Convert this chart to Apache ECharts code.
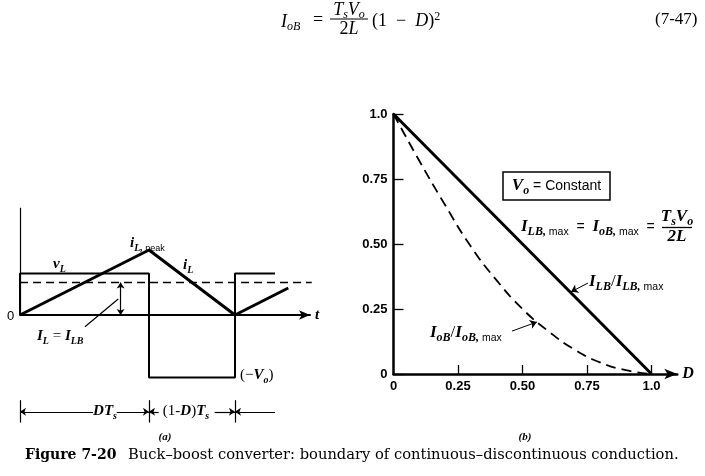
<!DOCTYPE html>
<html><head><meta charset="utf-8">
<script src="https://cdn.jsdelivr.net/npm/echarts@6/dist/echarts.min.js"></script>
<style>html,body{margin:0;padding:0;background:#fff}#c{width:705px;height:476px}</style>
</head><body><div id="c"></div>
<script>
// ---- Panel (b): normalized boundary currents vs duty ratio D ----
const dutyRatio = [0, 0.1, 0.2, 0.3, 0.4, 0.5, 0.6, 0.7, 0.8, 0.9, 1.0];
const iLBRatio  = [1.0, 0.9, 0.8, 0.7, 0.6, 0.5, 0.4, 0.3, 0.2, 0.1, 0.0];
const ioBRatio  = [1.0, 0.82, 0.65, 0.49, 0.36, 0.25, 0.165, 0.095, 0.045, 0.015, 0.0];
const tickValues = [0, 0.25, 0.5, 0.75, 1.0];
const xTickLabels = ['0', '0.25', '0.50', '0.75', '1.0'];
const yTickLabels = ['0', '0.25', '0.50', '0.75', '1.0'];

// ---- Panel (a): waveforms, time in units of Ts (D = 0.6) ----
const vLTime  = [0, 0, 0.6, 0.6, 1.0, 1.0, 1.186];
const vLValue = [0, 1.28, 1.28, -1.92, -1.92, 1.28, 1.28];
const iLTime  = [0, 0.6, 1.0, 1.248];
const iLValue = [0, 2.0, 0, 0.83];
const avgTime  = [0, 1.357];
const avgValue = [1, 1];
const dutyMarks = [0, 0.6, 1.0];      // ends of DTs and (1-D)Ts
const dimLevel = -2.98;

const zip = (a, b) => a.map((v, i) => [v, b[i]]);
const lab = (arr) => (v) => { const i = tickValues.findIndex(t => Math.abs(t - v) < 1e-6); return i >= 0 ? arr[i] : ''; };

const SERIF = 'Liberation Serif';
const SANS = 'Liberation Sans';
function styles(big, small, sans, sansSub) {
  return {
    i:  {fontFamily: SERIF, fontStyle: 'italic', fontWeight: 'bold', fontSize: big, lineHeight: big + 5, fill: '#000'},
    s:  {fontFamily: SERIF, fontStyle: 'italic', fontWeight: 'bold', fontSize: small, lineHeight: small, verticalAlign: 'bottom', fill: '#000'},
    ss: {fontFamily: SANS, fontSize: sansSub, lineHeight: small, verticalAlign: 'bottom', fill: '#000'},
    r:  {fontFamily: SERIF, fontSize: big, lineHeight: big + 5, fill: '#000'},
    rs: {fontFamily: SANS, fontSize: sans, lineHeight: big + 5, fill: '#000'}
  };
}
const R = styles(15, 10, 13, 9);       // panel (a)
const RB = styles(17, 12, 14, 10.5);   // panel (b)
const E = {  // equation styles (book text)
  i:  {fontFamily: SERIF, fontStyle: 'italic', fontSize: 18, lineHeight: 21, fill: '#000'},
  s:  {fontFamily: SERIF, fontStyle: 'italic', fontSize: 12, lineHeight: 12, verticalAlign: 'bottom', fill: '#000'},
  r:  {fontFamily: SERIF, fontSize: 18, lineHeight: 21, fill: '#000'},
  sup:{fontFamily: SERIF, fontSize: 12, lineHeight: 12, verticalAlign: 'top', fill: '#000'}
};
function txt(x, y, text, rich, align) {
  return {type: 'text', x: x, y: y, silent: true,
    style: {text: text, rich: rich, fill: '#000', align: align || 'left', verticalAlign: 'middle'}};
}
function seg(x1, y1, x2, y2, w) {
  return {type: 'line', silent: true, shape: {x1: x1, y1: y1, x2: x2, y2: y2}, style: {stroke: '#000', lineWidth: w || 1}};
}
function ml(p1, p2, s1, s2) {
  return [{coord: p1, symbol: s1 || 'none'}, {coord: p2, symbol: s2 || 'none'}];
}
const axisFont = {color: '#000', fontFamily: SANS, fontSize: 13, fontWeight: 'bold'};

const chart = echarts.init(document.getElementById('c'), null, {renderer: 'canvas'});
const option = {
  animation: false,
  backgroundColor: '#fff',
  grid: [
    {left: 393.5, top: 114, width: 283.8, height: 260},
    {left: 20, top: 207.75, width: 290, height: 217.75}
  ],
  xAxis: [
    {gridIndex: 0, type: 'value', min: 0, max: 1.1, interval: 0.25,
      axisLine: {lineStyle: {color: '#000', width: 2.5}, symbol: ['none', 'arrow'], symbolSize: [8, 13]},
      axisTick: {inside: true, length: 9, lineStyle: {color: '#000', width: 1.3}, customValues: [0.25, 0.5, 0.75, 1.0]},
      axisLabel: Object.assign({customValues: tickValues, formatter: lab(xTickLabels), margin: 6}, axisFont),
      splitLine: {show: false},
      name: 'D', nameLocation: 'end', nameGap: 5,
      nameTextStyle: {fontFamily: SERIF, fontStyle: 'italic', fontWeight: 'bold', fontSize: 16, color: '#000'}},
    {gridIndex: 1, type: 'value', min: 0, max: 1.349,
      axisLine: {onZero: true, lineStyle: {color: '#000', width: 2}, symbol: ['none', 'arrow'], symbolSize: [7, 11]},
      axisTick: {show: false}, axisLabel: {show: false}, splitLine: {show: false},
      name: 't', nameLocation: 'end', nameGap: 5,
      nameTextStyle: {fontFamily: SERIF, fontStyle: 'italic', fontWeight: 'bold', fontSize: 15, color: '#000'}}
  ],
  yAxis: [
    {gridIndex: 0, type: 'value', min: 0, max: 1, interval: 0.25,
      axisLine: {lineStyle: {color: '#000', width: 2.5}},
      axisTick: {inside: true, length: 10, lineStyle: {color: '#000', width: 1.3}},
      axisLabel: Object.assign({formatter: lab(yTickLabels), margin: 6}, axisFont),
      splitLine: {show: false}},
    {gridIndex: 1, type: 'value', min: -3.4, max: 3.3, show: false}
  ],
  series: [
    {type: 'line', name: 'ILB/ILB,max', xAxisIndex: 0, yAxisIndex: 0, data: zip(dutyRatio, iLBRatio),
      showSymbol: false, lineStyle: {color: '#000', width: 3}, silent: true,
      markLine: {silent: true, symbolSize: 7, label: {show: false}, lineStyle: {color: '#000', width: 1, type: 'solid'},
        data: [ml([0.754, 0.35], [0.688, 0.316], 'none', 'arrow')]}},
    {type: 'line', name: 'IoB/IoB,max', xAxisIndex: 0, yAxisIndex: 0, data: zip(dutyRatio, ioBRatio), smooth: true,
      showSymbol: false, lineStyle: {color: '#000', width: 1.8, type: [10, 6]}, silent: true,
      markLine: {silent: true, symbolSize: 7, label: {show: false}, lineStyle: {color: '#000', width: 1, type: 'solid'},
        data: [ml([0.459, 0.165], [0.556, 0.2], 'none', 'arrow')]}},
    {type: 'line', name: 'vL', xAxisIndex: 1, yAxisIndex: 1, data: zip(vLTime, vLValue),
      showSymbol: false, lineStyle: {color: '#000', width: 2}, silent: true},
    {type: 'line', name: 'iL', xAxisIndex: 1, yAxisIndex: 1, data: zip(iLTime, iLValue),
      showSymbol: false, lineStyle: {color: '#000', width: 3}, silent: true},
    {type: 'line', name: 'IL', xAxisIndex: 1, yAxisIndex: 1, data: zip(avgTime, avgValue),
      showSymbol: false, lineStyle: {color: '#000', width: 1.3, type: [8, 5]}, silent: true,
      markLine: {silent: true, symbolSize: 6, label: {show: false}, lineStyle: {color: '#000', width: 1.2, type: 'solid'},
        data: [
          ml([0, 0], [0, 3.3]),                          // vertical axis
          ml([0.468, 0], [0.468, 1], 'arrow', 'arrow'),   // IL dimension arrow
          ml([0.457, 0.49], [0.302, -0.36]),              // leader to IL = ILB
          ml([dutyMarks[0], dimLevel + 0.36], [dutyMarks[0], dimLevel - 0.33]),
          ml([dutyMarks[1], dimLevel + 0.36], [dutyMarks[1], dimLevel - 0.33]),
          ml([dutyMarks[2], dimLevel + 0.36], [dutyMarks[2], dimLevel - 0.33]),
          ml([0.34, dimLevel], [0, dimLevel], 'none', 'arrow'),
          ml([0.45, dimLevel], [0.6, dimLevel], 'none', 'arrow'),
          ml([0.645, dimLevel], [0.6, dimLevel], 'none', 'arrow'),
          ml([0.905, dimLevel], [1.0, dimLevel], 'none', 'arrow'),
          ml([1.186, dimLevel], [1.0, dimLevel], 'none', 'arrow')
        ]}}
  ],
  graphic: [
    // equation (7-47)
    txt(281, 22, '{i|I}{s|oB}', E),
    txt(313, 20, '{r|=}', E),
    txt(349, 10, '{i|T}{s|s}{i|V}{s|o}', E, 'center'),
    seg(330, 19, 368, 19, 1),
    txt(349, 29, '{r|2}{i|L}', E, 'center'),
    txt(372, 21, '{r|(1  −  }{i|D}{r|)}{sup|2}', E),
    txt(655, 20, '{r|(7-47)}', {r: {fontFamily: SERIF, fontSize: 17, fill: '#000'}}),
    // panel (a) labels
    txt(7, 316, '{rs|0}', R),
    txt(53, 264, '{i|v}{s|L}', R),
    txt(130, 243, '{i|i}{s|L,}{ss| peak}', R),
    txt(183, 265, '{i|i}{s|L}', R),
    txt(37, 336, '{i|I}{s|L}{r| = }{i|I}{s|LB}', R),
    txt(240, 375, '{r|(−}{i|V}{s|o}{r|)}', R),
    txt(105, 411, '{i|DT}{s|s}', R, 'center'),
    txt(186, 411, '{r|(1-}{i|D}{r|)}{i|T}{s|s}', R, 'center'),
    txt(165, 437, '{r|(a)}', {r: {fontFamily: SERIF, fontStyle: 'italic', fontWeight: 'bold', fontSize: 11, fill: '#000'}}, 'center'),
    // panel (b) labels
    {type: 'rect', silent: true, shape: {x: 503, y: 172, width: 107, height: 28}, style: {fill: 'none', stroke: '#000', lineWidth: 1.5}},
    txt(556.5, 186, '{i|V}{s|o}{rs| = Constant}', RB, 'center'),
    txt(521, 227, '{i|I}{s|LB,}{ss| max}{rs|  =  }{i|I}{s|oB,}{ss| max}{rs|  =}', RB),
    txt(677, 217, '{i|T}{s|s}{i|V}{s|o}', RB, 'center'),
    seg(662, 227.5, 692, 227.5, 1.3),
    txt(677, 237, '{i|2L}', RB, 'center'),
    txt(589, 282, '{i|I}{s|LB}{r|/}{i|I}{s|LB,}{ss| max}', RB),
    txt(430, 333, '{i|I}{s|oB}{r|/}{i|I}{s|oB,}{ss| max}', RB),
    txt(525, 437, '{r|(b)}', {r: {fontFamily: SERIF, fontStyle: 'italic', fontWeight: 'bold', fontSize: 11, fill: '#000'}}, 'center'),
    // caption
    txt(25, 455, '{b|Figure 7-20}', {b: {fontFamily: 'DejaVu Serif', fontWeight: 'bold', fontSize: 14, fill: '#000'}}),
    txt(128, 455, '{n|Buck–boost converter: boundary of continuous–discontinuous conduction.}',
      {n: {fontFamily: 'DejaVu Serif', fontSize: 14.7, fill: '#000'}})
  ]
};
chart.setOption(option);
</script>
</body></html>
